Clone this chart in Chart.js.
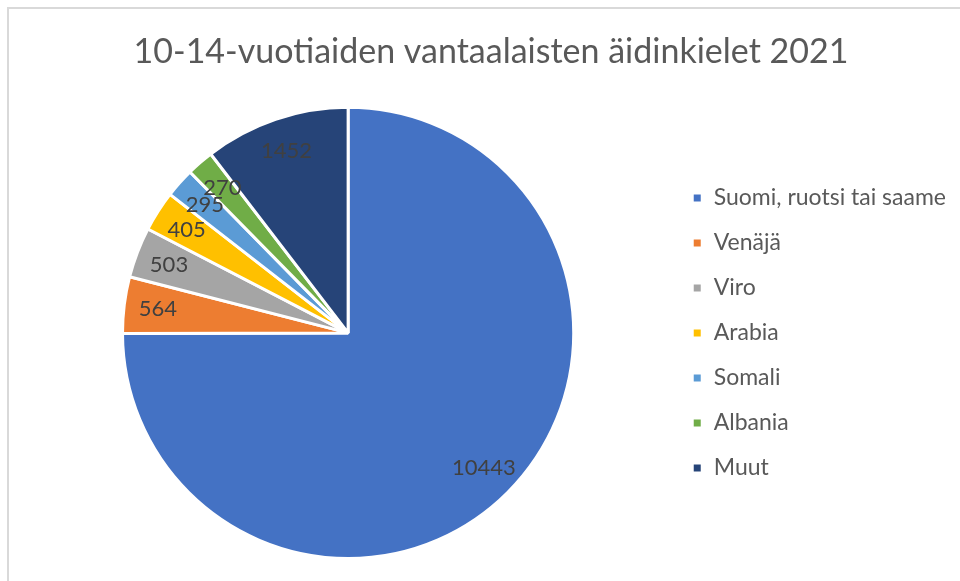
<!DOCTYPE html>
<html>
<head>
<meta charset="utf-8">
<script src="https://cdn.jsdelivr.net/npm/chart.js@4"></script>
<style>
  html, body { margin: 0; padding: 0; background: #fff; }
  #wrap { position: relative; width: 960px; height: 581px; overflow: hidden; }
  #frame { position: absolute; left: 7px; top: 7px; width: 1000px; height: 600px;
           border-left: 2px solid #d9d9d9; border-top: 2px solid #d9d9d9; }
  #pieChart { position: absolute; left: 0; top: 0; }
</style>
</head>
<body>
<div id="wrap">
  <div id="frame"></div>
  <canvas id="pieChart" width="960" height="581"></canvas>
</div>
<script>
const labels = ['Suomi, ruotsi tai saame', 'Venäjä', 'Viro', 'Arabia', 'Somali', 'Albania', 'Muut'];
const values = [10443, 564, 503, 405, 295, 270, 1452];
const colors = ['#4472C4', '#ED7D31', '#A5A5A5', '#FFC000', '#5B9BD5', '#70AD47', '#264478'];

// numbers inside slices, like Excel's data labels
const sliceLabels = {
    id: 'sliceLabels',
    afterDatasetsDraw(chart) {
        const c = chart.ctx;
        const meta = chart.getDatasetMeta(0);
        c.save();
        c.font = '22px Lato';
        c.fillStyle = '#404040';
        c.textAlign = 'center';
        c.textBaseline = 'middle';
        meta.data.forEach((arc, i) => {
            const p = arc.getProps(['x', 'y', 'startAngle', 'endAngle', 'outerRadius'], true);
            const mid = (p.startAngle + p.endAngle) / 2;
            const r = p.outerRadius * 0.85;
            c.fillText(String(values[i]), p.x + Math.cos(mid) * r, p.y + Math.sin(mid) * r);
        });
        c.restore();
    }
};

new Chart(document.getElementById('pieChart').getContext('2d'), {
    type: 'pie',
    data: {
        labels: labels,
        datasets: [{
            data: values,
            backgroundColor: colors,
            borderColor: '#ffffff',
            borderWidth: 3
        }]
    },
    options: {
        responsive: false,
        animation: false,
        layout: { padding: { left: 26, right: 4, top: 0, bottom: 21 } },
        plugins: {
            title: {
                display: true,
                text: '10-14-vuotiaiden vantaalaisten äidinkielet 2021',
                color: '#595959',
                font: { family: 'Lato', size: 34, weight: 'normal' },
                padding: { top: 32, bottom: 33 }
            },
            legend: {
                position: 'right',
                fullSize: false,
                labels: {
                    color: '#595959',
                    font: { family: 'Lato', size: 23 },
                    boxWidth: 10,
                    boxHeight: 10,
                    padding: 22
                }
            },
            tooltip: { enabled: false }
        }
    },
    plugins: [sliceLabels]
});
</script>
</body>
</html>
